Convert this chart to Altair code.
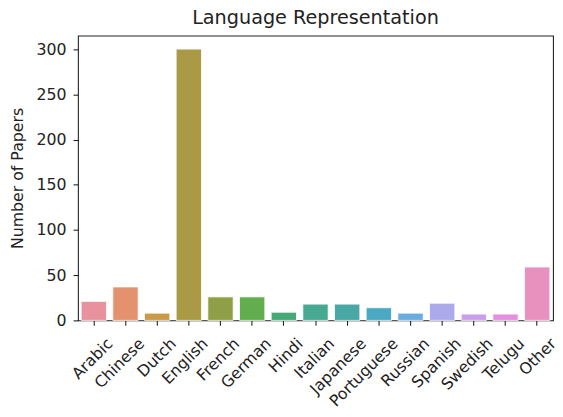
import altair as alt
import pandas as pd

languages = ["Arabic", "Chinese", "Dutch", "English", "French", "German", "Hindi",
             "Italian", "Japanese", "Portuguese", "Russian", "Spanish", "Swedish",
             "Telugu", "Other"]
papers = [21, 37, 8, 300, 26, 26, 9, 18, 18, 14, 8, 19, 7, 7, 59]
colors = ["#e8929d", "#e3926d", "#c99a48", "#aa9a45", "#8f9f45", "#62ad4d", "#46a777",
          "#48a993", "#49a7a4", "#4aa8c2", "#6aabe0", "#acaaea", "#cb9eec", "#e390e2",
          "#e891be"]
y_ticks = [0, 50, 100, 150, 200, 250, 300]

df = pd.DataFrame({"Language": languages, "Papers": papers})

FONT = "DejaVu Sans"

chart = alt.Chart(df).mark_bar(stroke="white", strokeWidth=0.8).encode(
    x=alt.X("Language:N", sort=languages,
            scale=alt.Scale(paddingInner=0.2, paddingOuter=0.1),
            axis=alt.Axis(title=None, labelAngle=-45, labelAlign="right",
                          labelBaseline="top", labelOffset=11, labelPadding=10,
                          tickSize=5, tickWidth=1.1, tickColor="#222",
                          labelFontSize=16, labelColor="#222", labelFont=FONT,
                          labelOverlap=False, labelBound=False, domain=False)),
    y=alt.Y("Papers:Q", scale=alt.Scale(domain=[0, 315], nice=False, zero=True),
            axis=alt.Axis(title="Number of Papers", values=y_ticks, grid=False,
                          tickSize=5, tickWidth=1.1, tickColor="#222",
                          labelFontSize=16, labelColor="#222", labelFont=FONT,
                          labelPadding=7, titleFontSize=16, titleFont=FONT,
                          titleFontWeight="normal", titleColor="#222",
                          titlePadding=11, domain=False)),
    color=alt.Color("Language:N", sort=languages,
                    scale=alt.Scale(domain=languages, range=colors), legend=None),
).properties(
    width=482,
    height=289,
    title=alt.TitleParams("Language Representation", fontSize=19.5, font=FONT,
                          fontWeight="normal", color="#222", offset=7),
    autosize=alt.AutoSizeParams(type="none"),
    padding={"left": 71, "top": 25, "right": 2, "bottom": 90},
).configure_view(stroke="#222", strokeWidth=1.1)

chart.save("out.html", embed_options={"renderer": "svg", "actions": False})
